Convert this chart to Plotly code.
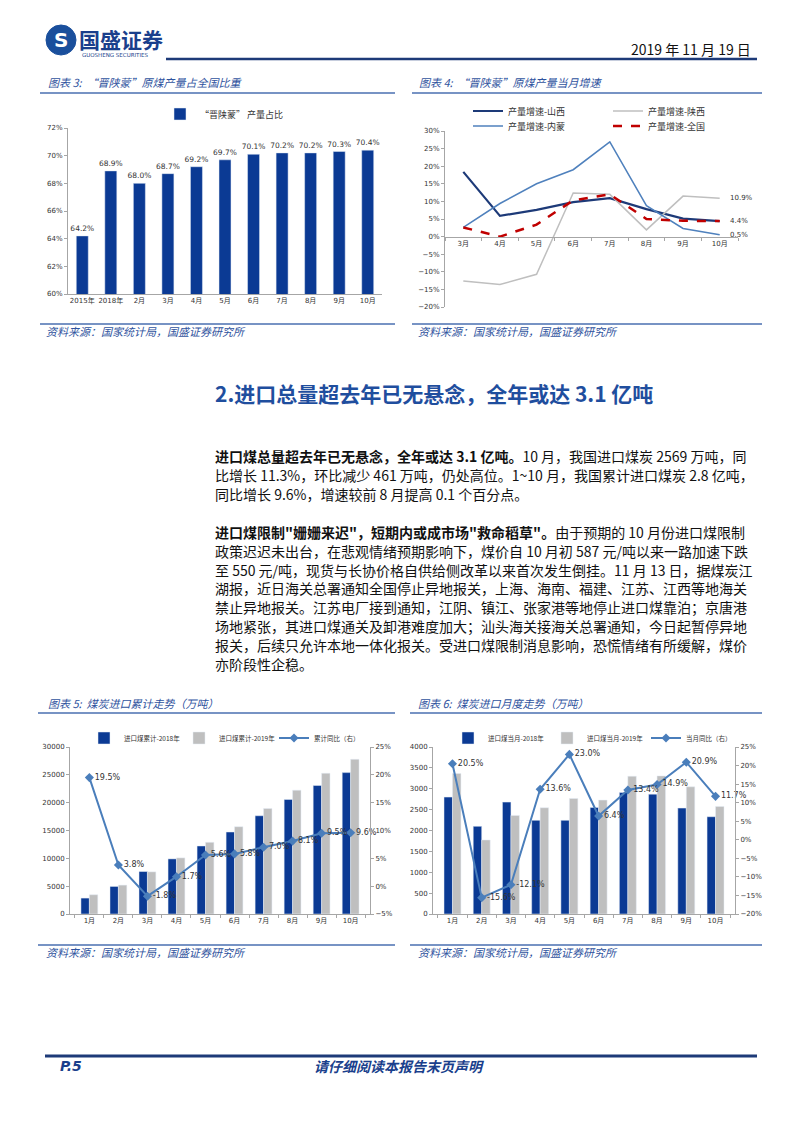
import plotly.graph_objects as go

# --- page geometry helpers (pixel -> paper) ---
# the browser adds an 8px body margin on every side, so the figure is
# made smaller to fit the window and page pixels are shifted by the margin
OX, OY = 8, 8
W, H = 802 - 2 * OX, 1133 - 2 * OY


def px(x):
    return (x - OX) / W


def py(y):
    return 1 - (y - OY) / H


# --- DATA ---
share_cats = ["2015年", "2018年", "2月", "3月", "4月", "5月", "6月", "7月", "8月", "9月", "10月"]
share_vals = [64.2, 68.9, 68.0, 68.7, 69.2, 69.7, 70.1, 70.2, 70.2, 70.3, 70.4]

growth_months = ["3月", "4月", "5月", "6月", "7月", "8月", "9月", "10月"]
growth_shanxi = [18.4, 5.9, 7.6, 9.8, 10.9, 7.8, 5.1, 4.4]
growth_shaanxi = [-12.6, -13.6, -10.7, 12.4, 12.0, 1.9, 11.5, 10.9]
growth_neimeng = [2.6, 9.4, 15.0, 19.0, 26.9, 8.8, 2.3, 0.5]
growth_national = [2.6, 0.0, 3.4, 10.3, 12.0, 5.0, 4.5, 4.4]

months = ["1月", "2月", "3月", "4月", "5月", "6月", "7月", "8月", "9月", "10月"]
cum_2018 = [2860, 4950, 7630, 9900, 12220, 14730, 17650, 20570, 23080, 25400]
cum_2019 = [3460, 5190, 7570, 10080, 12880, 15680, 18960, 22240, 25280, 27790]
cum_yoy = [19.5, 3.8, -1.8, 1.7, 5.6, 5.8, 7.0, 8.1, 9.5, 9.6]

mon_2018 = [2800, 2100, 2680, 2243, 2243, 2553, 2911, 2871, 2537, 2330]
mon_2019 = [3364, 1773, 2362, 2545, 2767, 2728, 3300, 3308, 3046, 2577]
mon_yoy = [20.5, -15.6, -12.1, 13.6, 23.0, 6.4, 13.4, 14.9, 20.9, 11.7]

para1 = [
    "<b>进口煤总量超去年已无悬念，全年或达 3.1 亿吨。</b>10 月，我国进口煤炭 2569 万吨，同",
    "比增长 11.3%，环比减少 461 万吨，仍处高位。1~10 月，我国累计进口煤炭 2.8 亿吨，",
    "同比增长 9.6%，增速较前 8 月提高 0.1 个百分点。",
]
para2 = [
    "<b>进口煤限制\"姗姗来迟\"，短期内或成市场\"救命稻草\"。</b>由于预期的 10 月份进口煤限制",
    "政策迟迟未出台，在悲观情绪预期影响下，煤价自 10 月初 587 元/吨以来一路加速下跌",
    "至 550 元/吨，现货与长协价格自供给侧改革以来首次发生倒挂。11 月 13 日，据煤炭江",
    "湖报，近日海关总署通知全国停止异地报关，上海、海南、福建、江苏、江西等地海关",
    "禁止异地报关。江苏电厂接到通知，江阴、镇江、张家港等地停止进口煤靠泊；京唐港",
    "场地紧张，其进口煤通关及卸港难度加大；汕头海关接海关总署通知，今日起暂停异地",
    "报关，后续只允许本地一体化报关。受进口煤限制消息影响，恐慌情绪有所缓解，煤价",
    "亦阶段性企稳。",
]

# --- STYLE ---
CJK = "Noto Sans CJK SC"
NUM = "DejaVu Sans, Noto Sans CJK SC"
DARK = "#0b3a94"
GRAY = "#bfbfbf"
LBLUE = "#4a7ebb"
TBLUE = "#2f539e"
NAVY = "#1d3a78"
AX = "#a6a6a6"
TXT = "#333333"

fig = go.Figure()

# CHART 3: share bars
fig.add_trace(go.Bar(
    x=share_cats, y=share_vals, xaxis="x", yaxis="y", width=0.42,
    marker_color=DARK, name="“晋陕蒙” 产量占比", legend="legend",
    text=[f"{v:.1f}%" for v in share_vals], textposition="outside", constraintext="none",
    textfont=dict(size=7.5, color=TXT, family=NUM), cliponaxis=False,
))

# CHART 4: monthly growth lines
fig.add_trace(go.Scatter(x=growth_months, y=growth_shanxi, xaxis="x2", yaxis="y2", mode="lines",
                         name="产量增速-山西", legend="legend2", line=dict(color=NAVY, width=2.2)))
fig.add_trace(go.Scatter(x=growth_months, y=growth_shaanxi, xaxis="x2", yaxis="y2", mode="lines",
                         name="产量增速-陕西", legend="legend2", line=dict(color=GRAY, width=1.5)))
fig.add_trace(go.Scatter(x=growth_months, y=growth_neimeng, xaxis="x2", yaxis="y2", mode="lines",
                         name="产量增速-内蒙", legend="legend3", line=dict(color="#4f81bd", width=1.5)))
fig.add_trace(go.Scatter(x=growth_months, y=growth_national, xaxis="x2", yaxis="y2", mode="lines",
                         name="产量增速-全国", legend="legend3", line=dict(color="#c00000", width=2.5, dash="dash")))

# CHART 5: cumulative imports
fig.add_trace(go.Bar(x=months, y=cum_2018, xaxis="x3", yaxis="y3", name="进口煤累计-2018年",
                     legend="legend4", marker_color=DARK, offsetgroup="a"))
fig.add_trace(go.Bar(x=months, y=cum_2019, xaxis="x3", yaxis="y3", name="进口煤累计-2019年",
                     legend="legend4", marker_color=GRAY, offsetgroup="b"))
fig.add_trace(go.Scatter(
    x=months, y=cum_yoy, xaxis="x3", yaxis="y4", mode="lines+markers+text", name="累计同比（右）",
    legend="legend4", line=dict(color=LBLUE, width=2), marker=dict(symbol="diamond", size=7),
    text=[f"{v:.1f}%" for v in cum_yoy], textposition="middle right",
    textfont=dict(size=8, color=TXT, family=NUM), cliponaxis=False,
))

# CHART 6: monthly imports
fig.add_trace(go.Bar(x=months, y=mon_2018, xaxis="x4", yaxis="y5", name="进口煤当月-2018年",
                     legend="legend5", marker_color=DARK, offsetgroup="a"))
fig.add_trace(go.Bar(x=months, y=mon_2019, xaxis="x4", yaxis="y5", name="进口煤当月-2019年",
                     legend="legend5", marker_color=GRAY, offsetgroup="b"))
fig.add_trace(go.Scatter(
    x=months, y=mon_yoy, xaxis="x4", yaxis="y6", mode="lines+markers+text", name="当月同比（右）",
    legend="legend5", line=dict(color=LBLUE, width=2), marker=dict(symbol="diamond", size=7),
    text=[f"{v:.1f}%" for v in mon_yoy], textposition="middle right",
    textfont=dict(size=8, color=TXT, family=NUM), cliponaxis=False,
))

axis_common = dict(showgrid=False, zeroline=False, showline=True, linecolor=AX, linewidth=1,
                   tickfont=dict(size=7, color=TXT, family=NUM), tickcolor=AX, ticklen=3,
                   automargin=False, tickangle=0)

# chart 4 zero position (x axis crosses at 0)
y2_lo, y2_hi = py(307), py(131)
zero_pos = y2_lo + (0 - (-20)) / 50 * (y2_hi - y2_lo)

legend_common = dict(xanchor="left", yanchor="middle", orientation="h", bgcolor="rgba(0,0,0,0)",
                     entrywidthmode="pixels", itemwidth=30)

fig.update_layout(
    width=W, height=H, autosize=False, margin=dict(l=0, r=0, t=0, b=0, pad=0, autoexpand=False),
    paper_bgcolor="white", plot_bgcolor="white",
    barmode="group", bargap=0.42, bargroupgap=0,
    font=dict(family=CJK, color=TXT),
    # chart 3
    xaxis=dict(domain=[px(68), px(382)], anchor="y", ticks="", **axis_common),
    yaxis=dict(domain=[py(294), py(128)], anchor="x", range=[60, 72], tick0=60, dtick=2,
               ticksuffix="%", ticks="outside", **axis_common),
    # chart 4
    xaxis2=dict(domain=[px(445), px(738)], anchor="free", position=zero_pos, range=[-0.5, 7.5],
                ticks="outside", tickson="boundaries", **axis_common),
    yaxis2=dict(domain=[y2_lo, y2_hi], anchor="x2", range=[-20, 30], tick0=-20, dtick=5,
                ticksuffix="%", ticks="outside", **axis_common),
    # chart 5
    xaxis3=dict(domain=[px(70), px(370)], anchor="y3", ticks="outside", tickson="boundaries", **axis_common),
    yaxis3=dict(domain=[py(914), py(747)], anchor="x3", range=[0, 30000], tick0=0, dtick=5000,
                tickformat="d", ticks="outside", **axis_common),
    yaxis4=dict(overlaying="y3", side="right", anchor="x3", range=[-5, 25], tick0=-5, dtick=5,
                ticksuffix="%", ticks="outside", **axis_common),
    # chart 6
    xaxis4=dict(domain=[px(433), px(735)], anchor="y5", ticks="outside", tickson="boundaries", **axis_common),
    yaxis5=dict(domain=[py(914), py(747)], anchor="x4", range=[0, 4000], tick0=0, dtick=500,
                tickformat="d", ticks="outside", **axis_common),
    yaxis6=dict(overlaying="y5", side="right", anchor="x4", range=[-20, 25], tick0=-20, dtick=5,
                ticksuffix="%", ticks="outside", **axis_common),
    legend=dict(x=px(160), y=py(114), font=dict(size=9, color=TXT), **legend_common),
    legend2=dict(x=px(468), y=py(111), entrywidth=95, font=dict(size=9, color=TXT), **legend_common),
    legend3=dict(x=px(468), y=py(126), entrywidth=95, font=dict(size=9, color=TXT), **legend_common),
    legend4=dict(x=px(84), y=py(738), entrywidth=50, font=dict(size=6.5, color=TXT), **legend_common),
    legend5=dict(x=px(448), y=py(738), entrywidth=54, font=dict(size=6.5, color=TXT), **legend_common),
    showlegend=True,
)


def note(text, x, y, size, color=TXT, xanchor="left", family=CJK):
    return dict(text=text, x=px(x), y=py(y), xref="paper", yref="paper", showarrow=False,
                xanchor=xanchor, yanchor="middle", font=dict(size=size, color=color, family=family))


anns = [
    note("<b>国盛证券</b>", 77, 39, 21, "#1a3f8c"),
    note("GUOSHENG SECURITIES", 80, 55, 5.5, "#1a3f8c", family=NUM),
    note("<b>S</b>", 61, 40, 20, "white", xanchor="center", family=NUM),
    note("2019 年 11 月 19 日", 753, 49, 14, "#111111", xanchor="right"),
    note("<i>图表 3:  “晋陕蒙”原煤产量占全国比重</i>", 46, 82, 11, TBLUE),
    note("<i>图表 4:  “晋陕蒙”原煤产量当月增速</i>", 417, 82, 11, TBLUE),
    note("<i>资料来源：国家统计局，国盛证券研究所</i>", 44, 331, 11, TBLUE),
    note("<i>资料来源：国家统计局，国盛证券研究所</i>", 416, 331, 11, TBLUE),
    note("<b>2.进口总量超去年已无悬念，全年或达 3.1 亿吨</b>", 213, 393, 21, "#1f4e9e"),
    note("<i>图表 5:  煤炭进口累计走势（万吨）</i>", 46, 703, 11, TBLUE),
    note("<i>图表 6:  煤炭进口月度走势（万吨）</i>", 416, 703, 11, TBLUE),
    note("<i>资料来源：国家统计局，国盛证券研究所</i>", 44, 952, 11, TBLUE),
    note("<i>资料来源：国家统计局，国盛证券研究所</i>", 416, 952, 11, TBLUE),
    note("<b><i>P.5</i></b>", 58, 1066, 14, "#1a3f8c", family=NUM),
    note("<b><i>请仔细阅读本报告末页声明</i></b>", 399, 1066, 14, "#1a3f8c", xanchor="center"),
]

for i, line in enumerate(para1):
    anns.append(note(line, 213, 456 + i * 19, 14, "#111111"))
for i, line in enumerate(para2):
    anns.append(note(line, 213, 532 + i * 18.8, 14, "#111111"))

# end-of-series labels on chart 4
for val in [growth_shaanxi[-1], growth_national[-1], growth_neimeng[-1]]:
    anns.append(dict(text=f"{val:.1f}%", x=growth_months[-1], y=val, xref="x2", yref="y2", showarrow=False,
                     xanchor="left", yanchor="middle", xshift=8, font=dict(size=7, color=TXT, family=NUM)))

fig.update_layout(annotations=anns)


def hline(x0, x1, y, color, width):
    return dict(type="line", xref="paper", yref="paper", x0=px(x0), x1=px(x1), y0=py(y), y1=py(y),
                line=dict(color=color, width=width))


shapes = [
    dict(type="circle", xref="paper", yref="paper", x0=px(46), x1=px(76), y0=py(55), y1=py(25),
         fillcolor="#1a4f9c", line=dict(color="#1a4f9c", width=1)),
    hline(166, 757, 59, NAVY, 2.5),
    hline(40, 395, 93, "#4a6fb0", 1.5),
    hline(412, 762, 93, "#4a6fb0", 1.5),
    hline(40, 395, 324, "#4a6fb0", 1.5),
    hline(412, 762, 324, "#4a6fb0", 1.5),
    hline(38, 395, 713, "#4a6fb0", 1.5),
    hline(410, 762, 713, "#4a6fb0", 1.5),
    hline(38, 395, 945, "#4a6fb0", 1.5),
    hline(410, 762, 945, "#4a6fb0", 1.5),
    hline(45, 757, 1056, NAVY, 3),
]
fig.update_layout(shapes=shapes)

fig.write_html("out.html")
